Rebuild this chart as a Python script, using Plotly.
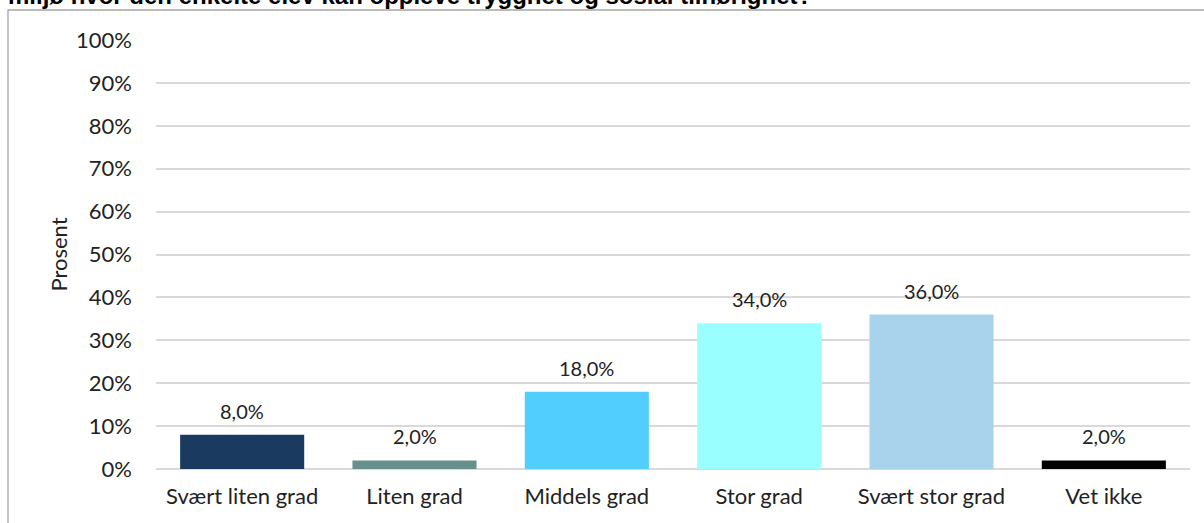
import plotly.graph_objects as go

categories = ['Svært liten grad', 'Liten grad', 'Middels grad', 'Stor grad', 'Svært stor grad', 'Vet ikke']
values = [8.0, 2.0, 18.0, 34.0, 36.0, 2.0]
colors = ['#1b3a5f', '#678f8b', '#52cefe', '#99ffff', '#a9d3ed', '#000000']
title_text = 'miljø hvor den enkelte elev kan oppleve trygghet og sosial tilhørighet?'

W, H = 1204, 523
ML, MR, MT, MB = 156, 14, 40, 54
pw = W - ML - MR
ph = H - MT - MB

fig = go.Figure()
fig.add_trace(go.Bar(x=categories, y=values, marker=dict(color=colors, line=dict(width=0)),
                     hoverinfo='x+y'))

# dataetiketter
for c, v in zip(categories, values):
    fig.add_annotation(x=c, y=v, text=f'{v:.1f}%'.replace('.', ','), showarrow=False,
                       yanchor='bottom', yshift=10, font=dict(size=20, color='#222222'))

# tittel (delvis kuttet øverst, som i originalen)
fig.add_annotation(xref='paper', yref='paper', x=(6 - ML) / pw, y=1 + (MT - 11) / ph,
                   xanchor='left', yanchor='bottom', text='<b>' + title_text + '</b>',
                   showarrow=False, font=dict(family='Liberation Sans, Arial', size=24, color='#000000'))

# ramme
fig.add_shape(type='rect', xref='paper', yref='paper',
              x0=(8 - ML) / pw, x1=(W + 5 - ML) / pw,
              y0=-(MB + 5) / ph, y1=1 + (MT - 10) / ph,
              line=dict(color='#a6a6a6', width=1.3), layer='below')

fig.update_layout(
    width=W, height=H,
    margin=dict(l=ML, r=MR, t=MT, b=MB),
    paper_bgcolor='white', plot_bgcolor='white',
    font=dict(family='Lato, Carlito, Calibri, sans-serif', size=20, color='#222222'),
    bargap=0.28,
    showlegend=False,
)
fig.update_xaxes(showgrid=False, showline=False, ticks='', ticklabelstandoff=12,
                 tickfont=dict(size=22), automargin=False)
fig.update_yaxes(range=[0, 100], dtick=10, ticksuffix='%', showgrid=True,
                 gridcolor='#d9d9d9', gridwidth=1.5, zeroline=True, zerolinecolor='#d9d9d9',
                 zerolinewidth=1.5, showline=False, ticklabelstandoff=23, tickfont=dict(size=22),
                 automargin=False,
                 title=dict(text='Prosent', font=dict(size=22), standoff=2))

fig.write_html('out.html', config={'displayModeBar': False},
               post_script="document.body.style.margin='0';")
